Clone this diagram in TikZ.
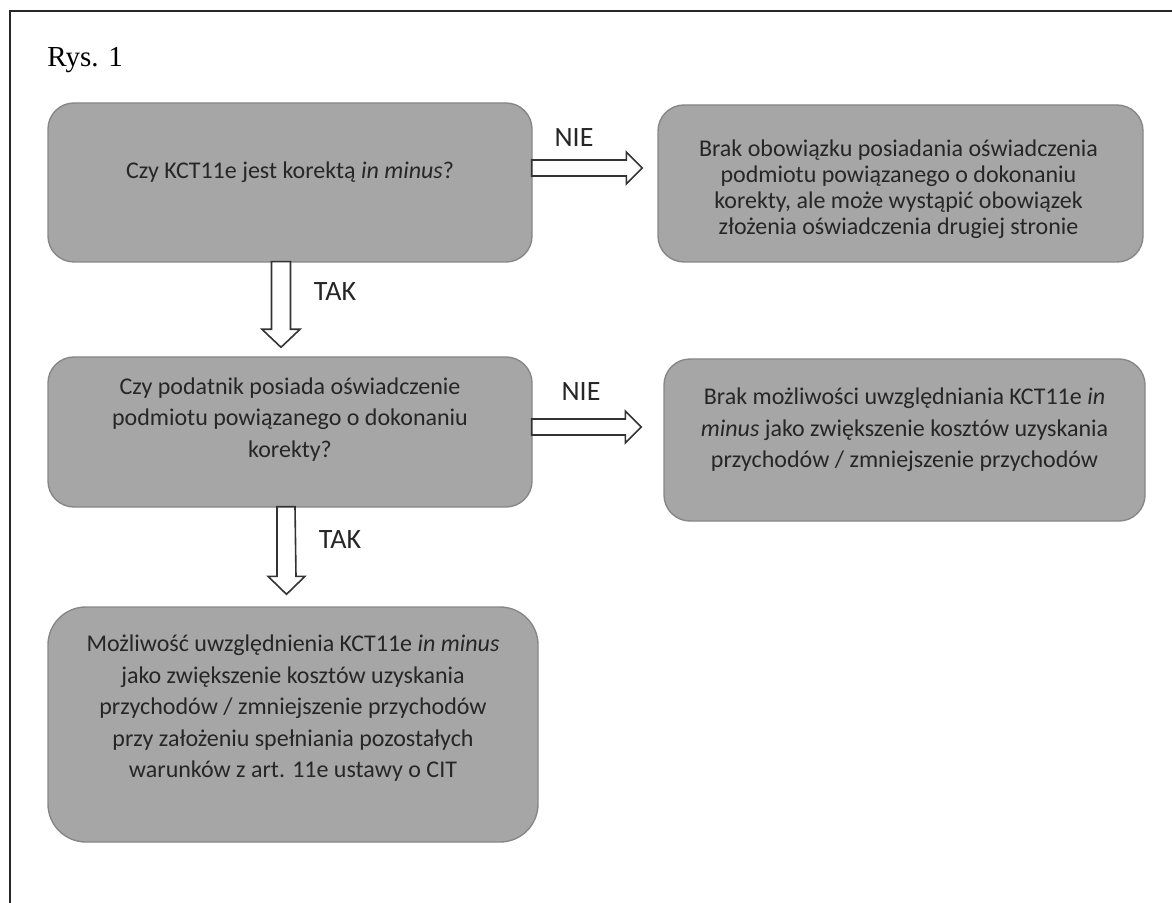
\documentclass[tikz,border=0pt]{standalone}
\usepackage{fontspec}
\setmainfont{Carlito}
\newfontfamily\rysfont{Liberation Serif}
\usetikzlibrary{positioning,calc}
\definecolor{boxgray}{RGB}{166,166,166}
\definecolor{edgegray}{RGB}{135,135,135}
\definecolor{inkgray}{RGB}{38,38,38}

\begin{document}
\begin{tikzpicture}[
    x=0.5pt, y=-0.5pt,
    box/.style={draw=edgegray,fill=boxgray,line width=0.7pt,rounded corners=13pt,inner sep=0pt},
    txt/.style={text=inkgray,align=center,inner sep=0pt,font=\fontsize{12}{15.75}\selectfont},
    blockarrow/.style={draw=black!80,fill=white,line width=0.8pt,line join=miter},
    answer/.style={text=inkgray,font=\fontsize{14}{16}\selectfont}
]
    \useasboundingbox (0,0) rectangle (1172,903);
    % Frame of the figure (only top and left edges fall inside the page)
    \draw[black!85,line width=1pt] (9.5,903) -- (9.5,11.5) -- (1172,11.5);
    \node[anchor=base west,inner sep=0pt,font=\rysfont\fontsize{14.5}{17}\selectfont] (rys) at (47,66.5) {Rys. 1};

    % Boxes
    \node[box,minimum width=242pt,minimum height=79.5pt] (q1) at (290,182.5) {};
    \node[box,minimum width=242.5pt,minimum height=78.5pt] (a1) at (900.5,183.5) {};
    \node[box,minimum width=242pt,minimum height=75pt] (q2) at (290,432) {};
    \node[box,minimum width=240.5pt,minimum height=81pt] (a2) at (904.5,440) {};
    \node[box,minimum width=245pt,minimum height=117.5pt,rounded corners=19pt] (a3) at (293,724.5) {};

    % Texts (set a little off the box centres, as in the original)
    \node[txt] (q1txt) at ($(q1)+(0,-10.5)$) {Czy KCT11e jest korektą \textit{in minus}?};
    \node[txt,font=\fontsize{12}{13}\selectfont] (a1txt) at ($(a1)+(-2,5.5)$) {Brak obowiązku posiadania oświadczenia\\podmiotu powiązanego o dokonaniu\\korekty, ale może wystąpić obowiązek\\złożenia oświadczenia drugiej stronie};
    \node[txt] (q2txt) at ($(q2)+(0,-12.5)$) {Czy podatnik posiada oświadczenie\\podmiotu powiązanego o dokonaniu\\korekty?};
    \node[txt] (a2txt) at ($(a2)+(0,-10)$) {Brak możliwości uwzględniania KCT11e \textit{in}\\\textit{minus} jako zwiększenie kosztów uzyskania\\przychodów / zmniejszenie przychodów};
    \node[txt] (a3txt) at ($(a3)+(0,-16)$) {Możliwość uwzględnienia KCT11e \textit{in minus}\\jako zwiększenie kosztów uzyskania\\przychodów / zmniejszenie przychodów\\przy założeniu spełniania pozostałych\\warunków z art. 11e ustawy o CIT};

    % NIE arrows (to the right)
    \draw[blockarrow] ($(q1.east)+(-1,-22.5)$) -- ($(a1.west |- q1.east)+(-31,-22.5)$) -- ++(0,-8) -- ++(16,16) -- ++(-16,16) -- ++(0,-8) -- ($(q1.east)+(-1,-6.5)$) -- cycle;
    \draw[blockarrow] ($(q2.east)+(-1,-13)$) -- ($(a2.west |- q2.east)+(-38,-13)$) -- ++(0,-8) -- ++(16,16) -- ++(-16,16) -- ++(0,-8) -- ($(q2.east)+(-1,3)$) -- cycle;

    % TAK arrows (downwards)
    \draw[blockarrow] ($(q1.south)+(-18.5,-1)$) -- ($(q2.north)+(-18.5,-27)$) -- ++(-9.5,0) -- ++(19,18) -- ++(19,-18) -- ++(-9.5,0) -- ($(q1.south)+(0.5,-1)$) -- cycle;
    \draw[blockarrow] ($(q2.south)+(-13,-1)$) -- ($(a3.north)+(-16,-30)$) -- ++(-9,0) -- ++(18.5,18) -- ++(18.5,-18) -- ++(-9,0) -- ($(q2.south)+(5,-1)$) -- cycle;

    % Arrow labels
    \node[answer] (nie1) at (574,138) {NIE};
    \node[answer] (nie2) at (581,392) {NIE};
    \node[answer] (tak1) at (335,292) {TAK};
    \node[answer] (tak2) at (340,540) {TAK};
\end{tikzpicture}
\end{document}
